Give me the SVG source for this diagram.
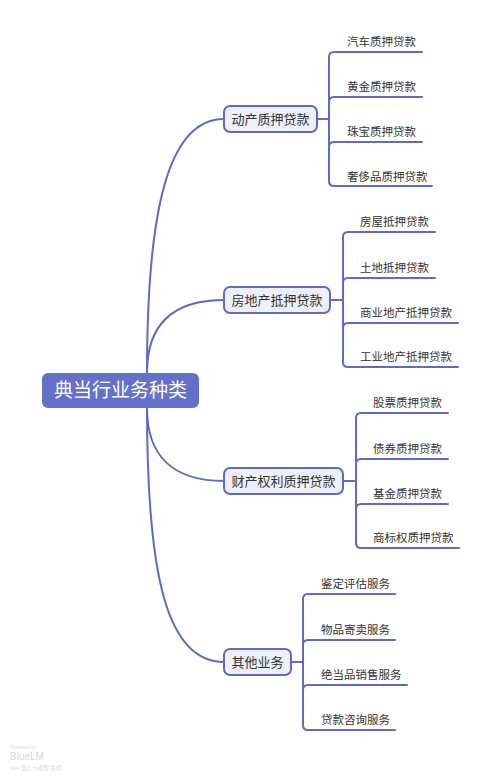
<svg xmlns="http://www.w3.org/2000/svg" width="500" height="775" viewBox="0 0 500 775">
<style>
.link{fill:none;stroke:#6069c6;stroke-width:2;stroke-linecap:round}
.br rect{fill:#eef0f9;stroke:#6069c6;stroke-width:2}
.br text{font-family:"Noto Sans CJK SC","Noto Sans",sans-serif;font-size:13px;fill:#333}
.leaf{font-family:"Noto Sans CJK SC","Noto Sans",sans-serif;font-size:11.5px;fill:#333}
.wm{font-family:"Liberation Sans","Noto Sans CJK SC",sans-serif;fill:#d8d8d8}
</style>
<rect width="500" height="775" fill="#ffffff"/>
<g id="connectors">
<path class="link" d="M147,373 C147,210 168,119 224,119"/>
<path class="link" d="M147,373 C147,325 172,300 224,300"/>
<path class="link" d="M147,408 C147,455 172,481 224,481"/>
<path class="link" d="M147,408 C147,580 168,662 224,662"/>
<path class="link" d="M317,119 H329 M334,52 H422 M329,57 Q329,52 334,52 M329,57 V181 Q329,186 334,186 H432 M329,102 Q329,97 334,97 H422 M329,147 Q329,142 334,142 H422"/>
<path class="link" d="M330,300 H343 M348,232 H435 M343,237 Q343,232 348,232 M343,237 V362 Q343,367 348,367 H458 M343,283 Q343,278 348,278 H435 M343,328 Q343,323 348,323 H458"/>
<path class="link" d="M343,481 H356 M361,413 H448 M356,418 Q356,413 361,413 M356,418 V543 Q356,548 361,548 H459 M356,464 Q356,459 361,459 H448 M356,509 Q356,504 361,504 H448"/>
<path class="link" d="M291,662 H303 M308,594 H395 M303,599 Q303,594 308,594 M303,599 V725 Q303,730 308,730 H395 M303,645 Q303,640 308,640 H395 M303,690 Q303,685 308,685 H407"/>
</g>
<g id="root">
<rect x="42" y="373" width="157" height="35" rx="6" fill="#6470c9"/>
<text x="120.5" y="397" text-anchor="middle" font-family="Noto Sans CJK SC,Noto Sans,sans-serif" font-size="19" fill="#ffffff">典当行业务种类</text>
</g>
<g id="b1" class="br">
<rect x="224" y="106" width="93" height="26" rx="6"/>
<text x="270.5" y="124" text-anchor="middle">动产质押贷款</text>
</g>
<g id="b2" class="br">
<rect x="224" y="287" width="106" height="26" rx="6"/>
<text x="277" y="305" text-anchor="middle">房地产抵押贷款</text>
</g>
<g id="b3" class="br">
<rect x="224" y="468" width="119" height="26" rx="6"/>
<text x="283.5" y="486" text-anchor="middle">财产权利质押贷款</text>
</g>
<g id="b4" class="br">
<rect x="224" y="649" width="67" height="26" rx="6"/>
<text x="257.5" y="667" text-anchor="middle">其他业务</text>
</g>
<g id="l1a"><text class="leaf" x="347" y="46">汽车质押贷款</text></g>
<g id="l1b"><text class="leaf" x="347" y="91">黄金质押贷款</text></g>
<g id="l1c"><text class="leaf" x="347" y="136">珠宝质押贷款</text></g>
<g id="l1d"><text class="leaf" x="347" y="181">奢侈品质押贷款</text></g>
<g id="l2a"><text class="leaf" x="360" y="226">房屋抵押贷款</text></g>
<g id="l2b"><text class="leaf" x="360" y="272">土地抵押贷款</text></g>
<g id="l2c"><text class="leaf" x="360" y="317">商业地产抵押贷款</text></g>
<g id="l2d"><text class="leaf" x="360" y="361">工业地产抵押贷款</text></g>
<g id="l3a"><text class="leaf" x="373" y="407">股票质押贷款</text></g>
<g id="l3b"><text class="leaf" x="373" y="453">债券质押贷款</text></g>
<g id="l3c"><text class="leaf" x="373" y="498">基金质押贷款</text></g>
<g id="l3d"><text class="leaf" x="373" y="542">商标权质押贷款</text></g>
<g id="l4a"><text class="leaf" x="321" y="588">鉴定评估服务</text></g>
<g id="l4b"><text class="leaf" x="321" y="634">物品寄卖服务</text></g>
<g id="l4c"><text class="leaf" x="321" y="679">绝当品销售服务</text></g>
<g id="l4d"><text class="leaf" x="321" y="724">贷款咨询服务</text></g>
<g id="watermark">
<text class="wm" x="10" y="749" font-size="5">Powered by</text>
<text class="wm" x="10" y="760" font-size="10">BlueLM</text>
<text class="wm" x="10" y="770" font-size="5.5">vivo 蓝心大模型 生成</text>
</g>
</svg>
